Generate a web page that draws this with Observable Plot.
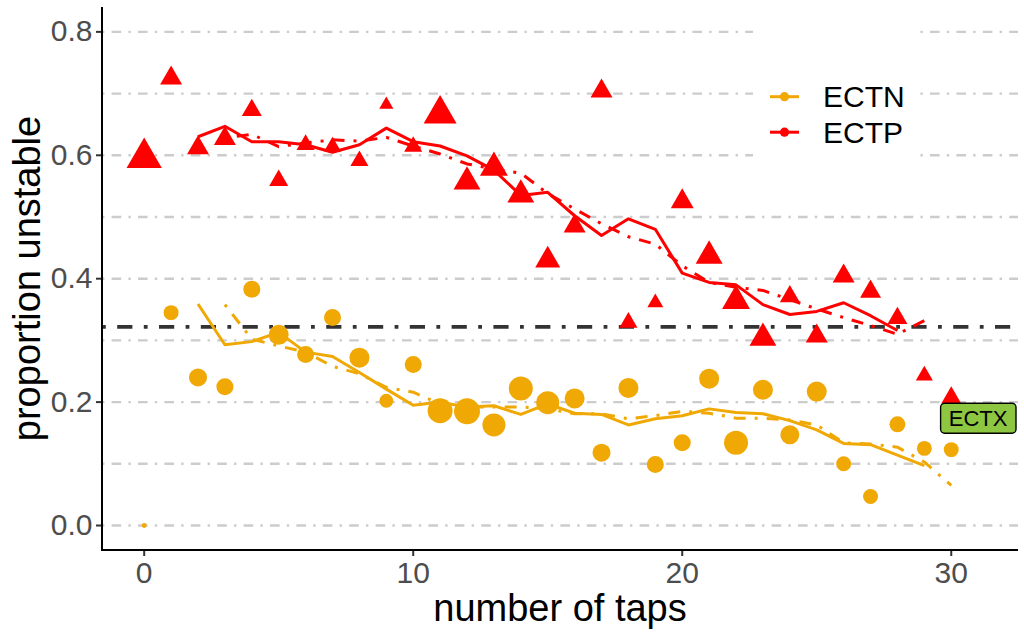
<!DOCTYPE html>
<html>
<head>
<meta charset="utf-8">
<script src="https://cdn.jsdelivr.net/npm/d3@7"></script>
<script src="https://cdn.jsdelivr.net/npm/@observablehq/plot@0.6"></script>
<style>
  html, body { margin: 0; padding: 0; background: #ffffff; }
  #chart svg { display: block; }
</style>
</head>
<body>
<div id="chart"></div>
<script>
// ---------------- data ----------------
const taps = [0,1,2,3,4,5,6,7,8,9,10,11,12,13,14,15,16,17,18,19,20,21,22,23,24,25,26,27,28,29,30];

// ECTP (red triangles): observed proportion and sample-size weight
const ectpValue = [0.596,0.725,0.612,0.627,0.673,0.559,0.617,0.614,0.591,0.682,0.614,0.667,0.557,0.580,0.536,0.430,0.485,0.704,0.329,0.361,0.525,0.437,0.364,0.304,0.371,0.307,0.404,0.379,0.336,0.243,0.207];
const ectpN     = [175,68,68,68,56,51,46,41,46,28,46,153,102,110,102,88,68,68,46,36,74,102,110,102,56,68,68,62,56,41,56];

// ECTN (orange circles)
const ectnValue = [0.000,0.345,0.240,0.225,0.383,0.309,0.277,0.337,0.272,0.202,0.261,0.186,0.185,0.163,0.222,0.199,0.206,0.118,0.223,0.099,0.134,0.238,0.134,0.220,0.147,0.217,0.100,0.047,0.164,0.125,0.123];
const ectnN     = [6,57,83,74,74,102,74,74,102,50,74,159,172,135,147,135,102,83,102,74,74,102,147,102,92,102,57,57,65,57,57];

// smoothed curves (null = not defined at that tap)
const ectpSolid = [null,null,0.630,0.647,0.622,0.622,0.617,0.605,0.617,0.644,0.622,0.615,0.599,0.576,0.535,0.540,0.502,0.470,0.497,0.480,0.409,0.394,0.390,0.358,0.342,0.347,0.361,0.340,0.316,null,null];
const ectpDash  = [null,null,null,0.628,0.634,0.614,0.620,0.625,0.623,0.629,0.615,0.602,0.586,0.578,0.571,0.538,0.513,0.489,0.468,0.456,0.421,0.394,0.386,0.381,0.366,0.351,0.337,0.324,0.310,0.332,null];
const ectnSolid = [null,null,0.359,0.293,0.298,0.313,0.281,0.274,0.248,0.221,0.195,0.200,0.192,0.194,0.180,0.197,0.182,0.180,0.163,0.173,0.178,0.189,0.183,0.181,0.170,0.155,0.133,0.131,0.114,0.097,null];
const ectnDash  = [null,null,null,0.358,0.302,0.291,0.281,0.258,0.246,0.224,0.216,0.197,0.192,0.192,0.192,0.189,0.181,0.181,0.173,0.178,0.185,0.182,0.174,0.174,0.171,0.163,0.134,0.132,0.127,0.103,0.065];

const threshold = [0.322];
const gridTicks = [0,0.1,0.2,0.3,0.4,0.5,0.6,0.7,0.8];
const yTicks = [0,0.2,0.4,0.6,0.8];
const xTicks = [0,10,20,30];
const seriesNames = ["ECTN","ECTP"];
const labelText = ["ECTX"];
const labelX = [31];
const labelY = [0.173];

// ---------------- tables ----------------
const ORANGE = "#F0A804";
const RED = "#FF0000";
const ectp = taps.map((t,i) => ({tap:t, value:ectpValue[i], n:ectpN[i]}));
const ectn = taps.map((t,i) => ({tap:t, value:ectnValue[i], n:ectnN[i]}));
const curve = arr => taps.map((t,i) => ({tap:t, value:arr[i]})).filter(d => d.value != null);
const labels = labelText.map((s,i) => ({label:s, x:labelX[i], y:labelY[i]}));

const FONT = "'Liberation Sans', Arial, Helvetica, sans-serif";

// axis lines (left + bottom), drawn from plot dimensions
function axisLines(index, scales, values, dims) {
  const g = d3.create("svg:g").attr("stroke", "#000").attr("stroke-width", 2);
  const x0 = dims.marginLeft, x1 = dims.width - dims.marginRight;
  const y0 = dims.marginTop, y1 = dims.height - dims.marginBottom;
  g.append("line").attr("x1", x0).attr("x2", x0).attr("y1", y0).attr("y2", y1 + 1);
  g.append("line").attr("x1", x0 - 1).attr("x2", x1).attr("y1", y1).attr("y2", y1);
  return g.node();
}

// legend background + keys
function legendBg(index, scales, values, dims) {
  const g = d3.create("svg:g");
  g.append("rect").attr("x", 753).attr("y", 22).attr("width", 164).attr("height", 185).attr("fill", "#fff");
  return g.node();
}
function legendKeys(index, scales, values, dims) {
  const g = d3.create("svg:g").attr("text-anchor", "start");
  const colors = [ORANGE, RED];
  seriesNames.forEach((name, i) => {
    const cy = 96.7 + i * 35.5;
    g.append("line").attr("x1", 770).attr("x2", 799).attr("y1", cy).attr("y2", cy)
      .attr("stroke", colors[i]).attr("stroke-width", 3);
    g.append("circle").attr("cx", 784.5).attr("cy", cy).attr("r", 4.6).attr("fill", colors[i]);
    g.append("text").attr("x", 823).attr("y", cy + 10.6).text(name)
      .attr("text-anchor", "start")
      .attr("font-size", 30).attr("fill", "#000").attr("font-family", FONT);
  });
  return g.node();
}

const chart = Plot.plot({
  width: 1024,
  height: 632,
  marginLeft: 102,
  marginRight: 6,
  marginTop: 7,
  marginBottom: 82,
  style: {fontFamily: FONT, background: "#ffffff", overflow: "visible"},
  x: {domain: [-1.55, 32.5], axis: null},
  y: {domain: [-0.0405, 0.8395], axis: null},
  r: {type: "sqrt", domain: [0, 200], range: [0, 14]},
  marks: [
    Plot.gridY(gridTicks, {stroke: "#CCCCCC", strokeOpacity: 1, strokeWidth: 2.4, strokeDasharray: "2.4,7.2,9.6,7.2"}),
    legendBg,
    Plot.ruleY(threshold, {stroke: "#333333", strokeWidth: 3.8, strokeDasharray: "3.8,11.4,15.2,11.4"}),
    Plot.dot(ectn, {x: "tap", y: "value", r: "n", fill: ORANGE, symbol: "circle"}),
    Plot.dot(ectp, {x: "tap", y: "value", r: "n", fill: RED, symbol: "triangle"}),
    Plot.line(curve(ectnSolid), {x: "tap", y: "value", stroke: ORANGE, strokeWidth: 3, strokeLinecap: "butt"}),
    Plot.line(curve(ectnDash), {x: "tap", y: "value", stroke: ORANGE, strokeWidth: 3, strokeLinecap: "butt", strokeDasharray: "3,9,12,9"}),
    Plot.line(curve(ectpSolid), {x: "tap", y: "value", stroke: RED, strokeWidth: 3, strokeLinecap: "butt"}),
    Plot.line(curve(ectpDash), {x: "tap", y: "value", stroke: RED, strokeWidth: 3, strokeLinecap: "butt", strokeDasharray: "3,9,12,9"}),
    Plot.text(labels, {x: "x", y: "y", text: "label", fontSize: 22, fill: "#000"}),
    Plot.axisX(xTicks, {tickSize: 6, tickPadding: 5, fontSize: 30, stroke: "#333333", strokeWidth: 2, fill: "#4D4D4D", label: null, tickFormat: d => String(d)}),
    Plot.axisY(yTicks, {tickSize: 6, tickPadding: 4, fontSize: 30, stroke: "#333333", strokeWidth: 2, fill: "#4D4D4D", label: null, tickFormat: d3.format(".1f")}),
    axisLines,
    legendKeys
  ]
});

document.getElementById("chart").appendChild(chart);

// axis titles
const svg = d3.select(chart);
svg.append("text").attr("x", 560).attr("y", 621).attr("text-anchor", "middle")
  .attr("font-size", 38).attr("font-family", FONT).attr("fill", "#000").text("number of taps");
svg.append("text").attr("transform", "translate(40,278.5) rotate(-90)").attr("text-anchor", "middle")
  .attr("font-size", 38).attr("font-family", FONT).attr("fill", "#000").text("proportion unstable");

// rounded label box behind the ECTX text (same transform as the text)
svg.selectAll("text").filter(function () { return this.textContent === "ECTX"; }).each(function () {
  const b = this.getBBox();
  const cy = b.y + b.height / 2;
  const rect = document.createElementNS("http://www.w3.org/2000/svg", "rect");
  const tr = this.getAttribute("transform");
  if (tr) rect.setAttribute("transform", tr);
  rect.setAttribute("x", b.x - 8.2);
  rect.setAttribute("y", cy - 15);
  rect.setAttribute("width", b.width + 16.4);
  rect.setAttribute("height", 30);
  rect.setAttribute("rx", 4);
  rect.setAttribute("fill", "#8DC641");
  rect.setAttribute("stroke", "#000");
  rect.setAttribute("stroke-width", 1.4);
  this.parentNode.insertBefore(rect, this);
});
</script>
</body>
</html>
